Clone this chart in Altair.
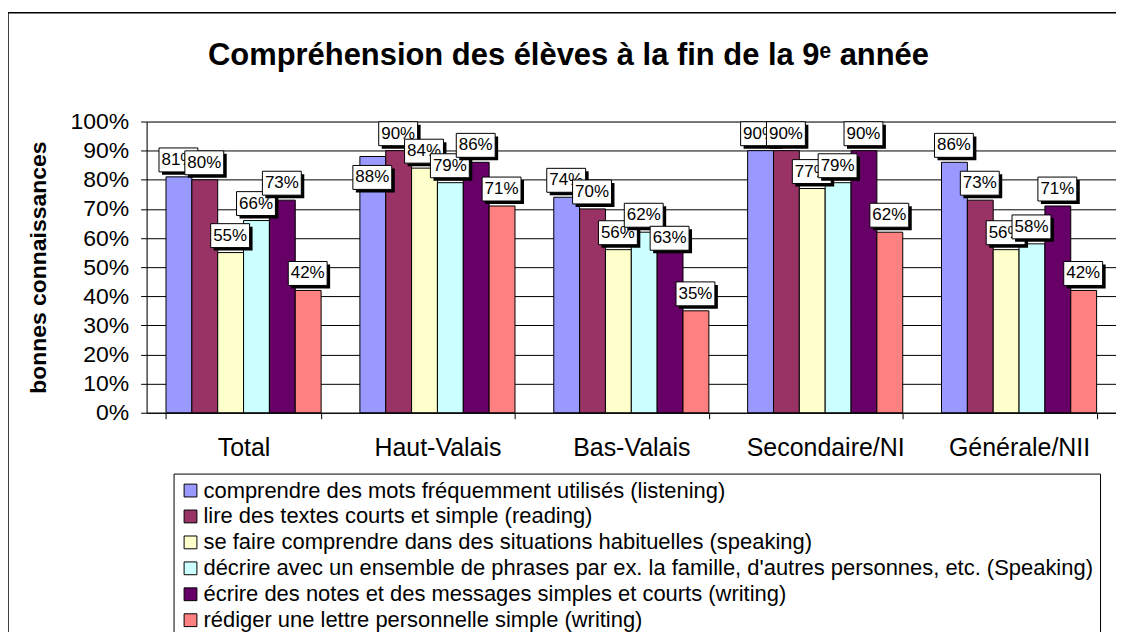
import altair as alt
import pandas as pd

categories = ["Total", "Haut-Valais", "Bas-Valais", "Secondaire/NI", "Générale/NII"]
series = [
    "comprendre des mots fréquemment utilisés (listening)",
    "lire des textes courts et simple (reading)",
    "se faire comprendre dans des situations habituelles (speaking)",
    "décrire avec un ensemble de phrases par ex. la famille, d'autres personnes, etc. (Speaking)",
    "écrire des notes et des messages simples et courts (writing)",
    "rédiger une lettre personnelle simple (writing)",
]
colors = ["#9999FF", "#993366", "#FFFFCC", "#CCFFFF", "#660066", "#FF8080"]

v_listening = [81, 88, 74, 90, 86]
v_reading = [80, 90, 70, 90, 73]
v_speaking = [55, 84, 56, 77, 56]
v_describing = [66, 79, 62, 79, 58]
v_writing_notes = [73, 86, 63, 90, 71]
v_letter = [42, 71, 35, 62, 42]
values = [v_listening, v_reading, v_speaking, v_describing, v_writing_notes, v_letter]

y_ticks = [i / 10 for i in range(11)]

W, H = 972, 292
FONT = "Liberation Sans"

# two data labels that the original moved down (in pixels) to avoid overlapping
label_nudge_px = {("Haut-Valais", 0): 38, ("Bas-Valais", 4): 26}

rows = []
for si, (s, vals) in enumerate(zip(series, values)):
    for c, v in zip(categories, vals):
        nudge = label_nudge_px.get((c, si), 0)
        rows.append({"cat": c, "serie": s, "val": v / 100, "lab": f"{v}%",
                     "lpos": v / 100 - nudge / H})
df = pd.DataFrame(rows)

x_enc = alt.X(
    "cat:N", sort=categories,
    scale=alt.Scale(domain=categories, paddingInner=0.2, paddingOuter=0.1),
    axis=alt.Axis(title=None, labelFontSize=25, labelColor="black", labelPadding=17,
                  labelAngle=0, tickBand="extent", tickSize=6, tickColor="black",
                  domainColor="black", grid=False, labelFont=FONT),
)
xo_enc = alt.XOffset("serie:N", sort=series,
                     scale=alt.Scale(domain=series, paddingInner=0, paddingOuter=0))
y_axis = alt.Axis(values=y_ticks, format=".0%", title="bonnes connaissances",
                  labelFontSize=23, labelColor="black", labelPadding=12, labelFont=FONT,
                  tickSize=6, tickColor="black", domainColor="black",
                  gridColor="black", gridWidth=1, gridOpacity=1,
                  titleFontSize=23, titleFont=FONT, titleFontWeight="bold", titleColor="black",
                  titleX=-108, titleY=H / 2, titleAngle=-90, titleAlign="center",
                  titleBaseline="middle")
y_enc = alt.Y("val:Q", scale=alt.Scale(domain=[0, 1]), axis=y_axis)
yl_enc = alt.Y("lpos:Q", scale=alt.Scale(domain=[0, 1]), axis=y_axis)

frame = alt.Chart(alt.Data(values=[{"a": 1}])).mark_rect(
    fillOpacity=0, stroke="black", strokeWidth=1.5
).encode(x=alt.value(-139), x2=alt.value(3000), y=alt.value(-109), y2=alt.value(3000))

bars = alt.Chart(df).mark_bar(stroke="black", strokeWidth=1).encode(
    x=x_enc, xOffset=xo_enc, y=y_enc,
    color=alt.Color(
        "serie:N", sort=series,
        scale=alt.Scale(domain=series, range=colors),
        legend=alt.Legend(title=None, orient="none", legendX=27, legendY=353,
                          direction="vertical", labelFontSize=22, labelFont=FONT,
                          labelColor="black", labelLimit=2000, symbolType="square",
                          symbolSize=165, symbolStrokeColor="black", symbolStrokeWidth=1,
                          symbolOpacity=1, rowPadding=4, padding=6, strokeColor="black",
                          fillColor="white", labelOffset=2, cornerRadius=0),
    ),
)

SHADOW = "M-0.85,-1.3 L1.1,-1.3 L1.1,-0.1 L-0.85,-0.1 Z"
BOX = "M-1,-1.45 L0.95,-1.45 L0.95,-0.25 L-1,-0.25 Z"

label_layers = []
for s in series:
    base = alt.Chart(df).transform_filter(alt.datum.serie == s)
    shadow = base.mark_point(shape=SHADOW, size=1600, filled=True, fill="black",
                             opacity=1, strokeWidth=0).encode(x=x_enc, xOffset=xo_enc, y=yl_enc)
    box = base.mark_point(shape=BOX, size=1600, filled=True, fill="white", opacity=1,
                          stroke="black", strokeWidth=1).encode(x=x_enc, xOffset=xo_enc, y=yl_enc)
    txt = base.mark_text(fontSize=17, font=FONT, color="black", baseline="middle",
                         dy=-17, dx=-0.5).encode(x=x_enc, xOffset=xo_enc, y=yl_enc, text="lab:N")
    label_layers += [shadow, box, txt]

chart = alt.layer(frame, bars, *label_layers).properties(
    width=W, height=H,
    title=alt.TitleParams("Compréhension des élèves à la fin de la 9ᵉ année",
                          fontSize=31, font=FONT, fontWeight="bold", color="black",
                          anchor="middle", dx=-63, offset=-60),
    autosize=alt.AutoSizeParams(type="none"),
    padding={"left": 139, "top": 113, "right": 0, "bottom": 219},
).configure_view(fill="#C0C0C0", stroke="#808080", strokeWidth=1).configure(font=FONT)

chart.save("out.html", embed_options={"renderer": "svg", "actions": False})
